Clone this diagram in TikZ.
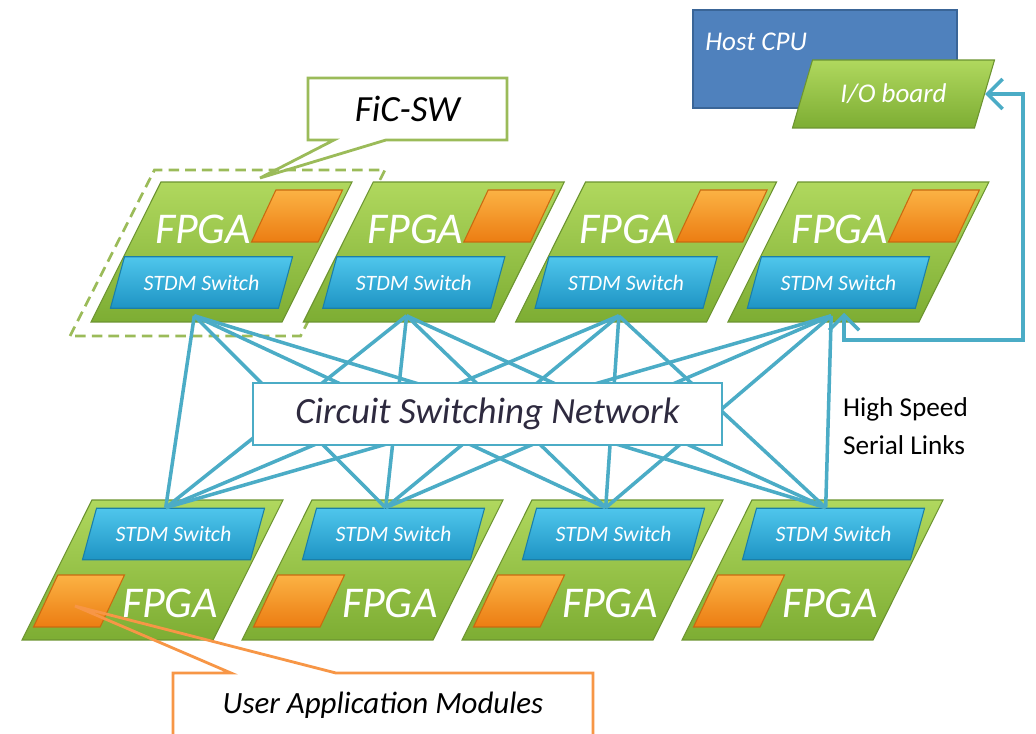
\documentclass[tikz,border=0pt]{standalone}
\usepackage{fontspec}
\setmainfont{Carlito}
\usetikzlibrary{arrows.meta, positioning, shapes.geometric, shapes.callouts, calc}
\definecolor{cgreenl}{HTML}{B0D85E}
\definecolor{cgreend}{HTML}{7DAD33}
\definecolor{cgreenline}{HTML}{6C9430}
\definecolor{cbluel}{HTML}{4FC6EC}
\definecolor{cblued}{HTML}{1E94C4}
\definecolor{cblueline}{HTML}{1A7FA8}
\definecolor{corangel}{HTML}{FBB244}
\definecolor{coranged}{HTML}{EC7D12}
\definecolor{corangeline}{HTML}{C96A10}
\definecolor{chost}{HTML}{4F81BD}
\definecolor{chostline}{HTML}{3A6597}
\definecolor{clink}{HTML}{4BACC6}
\definecolor{callgreen}{HTML}{9BBB59}
\definecolor{callorange}{HTML}{F79646}
\definecolor{cnet}{HTML}{2E2A3F}
\tikzset{
  para/.style={trapezium, trapezium left angle=60, trapezium right angle=120, trapezium stretches, inner sep=1pt},
  board/.style={para, draw=cgreenline, line width=0.6pt, top color=cgreenl, bottom color=cgreend, minimum width=5.22cm, minimum height=2.8cm},
  switchbox/.style={para, draw=cblueline, line width=0.6pt, top color=cbluel, bottom color=cblued, minimum width=3.66cm, minimum height=1.03cm, text=white, font=\itshape\fontsize{12.5pt}{14pt}\selectfont},
  module/.style={para, draw=corangeline, line width=0.6pt, top color=corangel, bottom color=coranged, minimum width=1.82cm, minimum height=1.04cm},
  chip/.style={text=white, inner sep=0pt, font=\itshape\fontsize{25pt}{30pt}\selectfont},
  link/.style={draw=clink, line width=2pt},
  hostlink/.style={draw=clink, line width=2pt, {Straight Barb[length=3mm, width=6mm]}-{Straight Barb[length=3mm, width=6mm]}},
  netbox/.style={draw=clink, fill=white, line width=1.5pt, minimum width=9.38cm, minimum height=1.24cm, text=cnet, font=\itshape\fontsize{21pt}{25pt}\selectfont},
  callbox/.style={rectangle callout, draw=#1, line width=1.6pt, font=\itshape\fontsize{21pt}{25pt}\selectfont},
  note/.style={align=left, inner sep=0pt, font=\fontsize{15.5pt}{21.6pt}\selectfont},
}
\begin{document}
\begin{tikzpicture}[x=0.02cm, y=-0.02cm]
  \fill[white] (0,0) rectangle (1036,734);
  \useasboundingbox (0,0) rectangle (1036,734);
  % dashed frame of one FiC-SW board
  \node[para, draw=callgreen, line width=1.5pt, dash pattern=on 6pt off 3.5pt, minimum width=6.3cm, minimum height=3.32cm] (ficframe) at (227.5,253) {};
  % top row: FPGA over switch
  \foreach \i in {1,...,4}{
    \pgfmathsetmacro\tx{221.5+212.3*(\i-1)}
    \node[board] (t\i) at (\tx,252) {};
    \node[switchbox] (tsw\i) at (\tx-20,282.5) {STDM Switch};
    \node[module] (tm\i) at (\tx+75.5,216) {};
    \node[chip] (tf\i) at (\tx-18.5,229) {FPGA};
  }
  % bottom row: switch over FPGA
  \foreach \i in {1,...,4}{
    \pgfmathsetmacro\bx{152.5+220*(\i-1)}
    \node[board] (b\i) at (\bx,570) {};
    \node[switchbox] (bsw\i) at (\bx+21,534) {STDM Switch};
    \node[module] (bm\i) at (\bx-73.5,601) {};
    \node[chip] (bf\i) at (\bx+17.5,603) {FPGA};
  }
  % every top switch to every bottom switch
  \foreach \i in {1,...,4}
    \foreach \j in {1,...,4}
      \draw[link] ([yshift=-0.14cm]tsw\i.bottom side) -- ([xshift=-0.3cm]bsw\j.top side);
  \node[netbox] (net) at (487.5,414) {Circuit Switching Network};
  \node[note] (serial) at (905.5,426) {High Speed\\Serial Links};
  % host side
  \node[draw=chostline, fill=chost, line width=1pt, minimum width=5.28cm, minimum height=1.96cm] (host) at (825,59) {};
  \node[anchor=west, inner sep=0pt, text=white, font=\itshape\fontsize{15.4pt}{18pt}\selectfont] (hostlbl) at (705,42) {Host CPU};
  \node[para, draw=cgreenline, line width=0.6pt, top color=cgreenl, bottom color=cgreend, minimum width=4.06cm, minimum height=1.36cm, text=white, font=\itshape\fontsize{15.4pt}{18pt}\selectfont] (io) at (893.5,94) {I/O board};
  \coordinate (t4port) at ([shift={(13,4)}]tsw4.bottom side);
  \coordinate (ret) at (1023,340);
  \draw[hostlink] (t4port) |- (ret) |- (io.right side);
  % callouts
  \node[callbox=callgreen, minimum width=3.98cm, minimum height=1.24cm, callout absolute pointer={(260,178)}, callout pointer width=1.04cm] (ficlbl) at (407.5,109) {FiC-SW};
  \node[callbox=callorange, minimum width=8.4cm, minimum height=1.28cm, callout absolute pointer={(75,606)}, callout pointer width=2.1cm, font=\itshape\fontsize{17.6pt}{21pt}\selectfont] (userlbl) at (383,705) {User Application Modules};
\end{tikzpicture}
\end{document}
